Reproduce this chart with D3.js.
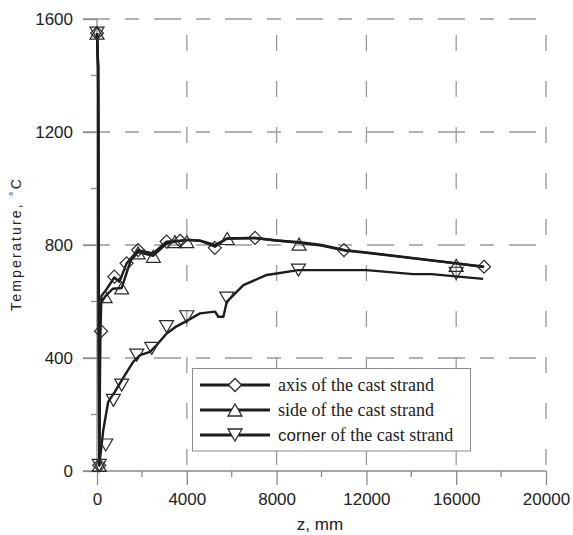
<!DOCTYPE html>
<html><head><meta charset="utf-8">
<script src="https://cdn.jsdelivr.net/npm/d3@7"></script>
<style>body{margin:0;background:#fff}svg{display:block}</style>
</head><body>
<script>
// ---- data ----
const xTicks = [0, 4000, 8000, 12000, 16000, 20000];
const yTicks = [0, 400, 800, 1200, 1600];
const seriesNames = ["axis of the cast strand", "side of the cast strand", "corner of the cast strand"];

const axisLine = [[0,1550],[50,1430],[100,20],[150,495],[200,620],[400,640],[770,685],[1000,670],[1320,735],[1830,782],[2500,770],[3100,812],[3700,815],[4140,818],[4600,815],[5250,794],[5780,823],[7040,825],[8000,816],[9040,810],[10000,800],[11050,782],[12000,774],[17240,723]];
const axisMarks = [[0,1550],[100,20],[180,495],[770,688],[1320,735],[1830,782],[3100,812],[3700,815],[5250,790],[7040,825],[11000,782],[17240,723]];

const sideLine = [[0,1550],[50,1430],[100,20],[140,590],[360,617],[700,645],[1100,648],[1500,745],[1830,775],[2500,762],[3100,805],[3470,812],[4000,818],[4600,815],[5250,800],[5800,823],[7040,825],[8000,816],[9000,808],[10000,798],[11050,780],[12000,772],[16000,735],[17240,722]];
const sideMarks = [[0,1550],[100,20],[360,617],[1100,648],[1830,772],[2510,760],[3470,812],[4000,812],[5800,823],[9000,803],[16000,728]];

const cornerLine = [[0,1550],[50,1430],[100,20],[280,145],[500,245],[800,281],[1250,340],[1620,387],[1920,410],[2360,422],[2660,446],[3100,487],[3500,510],[3920,528],[4590,558],[5260,564],[5400,546],[5630,546],[5780,599],[6520,658],[7560,694],[8970,711],[12000,711],[14080,697],[14900,697],[17200,680]];
const cornerMarks = [[0,1550],[100,20],[390,92],[730,250],[1100,304],[1770,410],[2440,434],[3100,511],[4000,546],[5780,612],[8970,711],[16000,700]];

// ---- layout ----
const W = 573, H = 535;
const svg = d3.select("body").append("svg").attr("width", W).attr("height", H);
const x = d3.scaleLinear().domain([0, 20000]).range([97, 546]);
const y = d3.scaleLinear().domain([0, 1600]).range([471, 19]);
const gridC = "#9a9a9a", axisC = "#8a8a8a", txtC = "#222";

// grid
const g = svg.append("g");
g.selectAll(".hg").data(yTicks.filter(d => d > 0)).join("line")
  .attr("x1", 83).attr("x2", x(20000)).attr("y1", d => y(d)).attr("y2", d => y(d))
  .attr("stroke", gridC).attr("stroke-width", 1.3).attr("stroke-dasharray", "27,15,14,15");
g.selectAll(".vg").data(xTicks.filter(d => d > 0)).join("line")
  .attr("x1", d => x(d)).attr("x2", d => x(d)).attr("y1", y(1600)).attr("y2", 485)
  .attr("stroke", gridC).attr("stroke-width", 1.3).attr("stroke-dasharray", "0,16,16,14");

// axes
const fmt = d3.format("d");
const yAxis = d3.axisLeft(y).tickValues(yTicks).tickFormat(fmt).tickSize(14).tickPadding(10);
const gy = svg.append("g").attr("transform", `translate(${x(0)},0)`).call(yAxis);
const xAxis = d3.axisBottom(x).tickValues(xTicks).tickFormat(fmt).tickSize(14).tickPadding(8);
const gx = svg.append("g").attr("transform", `translate(0,${y(0)})`).call(xAxis);
[gx, gy].forEach(a => {
  a.select(".domain").attr("stroke", axisC).attr("stroke-width", 1.3);
  a.selectAll(".tick line").attr("stroke", axisC).attr("stroke-width", 1.3);
  a.selectAll("text").attr("fill", txtC).style("font-family", "Liberation Sans, Arial, sans-serif").style("font-size", "17px");
});
gx.select(".domain").attr("d", `M83,0H${x(20000)}`);
gy.select(".domain").attr("d", `M0,${y(1600)}V${y(0)}`);
// minor ticks
const xMinor = d3.range(2000, 20000, 4000);
svg.append("g").selectAll("line").data(xMinor).join("line")
  .attr("x1", d => x(d)).attr("x2", d => x(d)).attr("y1", y(0)).attr("y2", y(0) + 6)
  .attr("stroke", axisC).attr("stroke-width", 1.3);
const yMinor = d3.range(200, 1600, 400);
svg.append("g").selectAll("line").data(yMinor).join("line")
  .attr("x1", x(0) - 6).attr("x2", x(0)).attr("y1", d => y(d)).attr("y2", d => y(d))
  .attr("stroke", axisC).attr("stroke-width", 1.3);

// axis titles
svg.append("text").attr("x", 320).attr("y", 530).attr("text-anchor", "middle")
  .attr("fill", txtC).style("font-family", "Liberation Sans, Arial, sans-serif").style("font-size", "17px").text("z, mm");
const yt = svg.append("text").attr("transform", "translate(21,244) rotate(-90)").attr("text-anchor", "middle")
  .attr("fill", txtC).style("font-family", "Liberation Sans, Arial, sans-serif").style("font-size", "14px").style("letter-spacing", "2.2px");
yt.append("tspan").text("Temperature, ");
yt.append("tspan").attr("dy", -4).style("font-size", "11px").text("°");
yt.append("tspan").attr("dy", 4).text("C");

// markers
const diamond = (s) => `M0,${-s}L${s},0L0,${s}L${-s},0Z`;
const triUp = (w, h) => `M0,${-h/2 - 1}L${w},${h/2 + 1}L${-w},${h/2 + 1}Z`;
const triDown = (w, h) => `M0,${h/2 + 1}L${w},${-h/2 - 1}L${-w},${-h/2 - 1}Z`;
const shapes = [diamond(6.5), triUp(7, 10), triDown(7, 10)];

const line = d3.line().x(d => x(d[0])).y(d => y(d[1]));
const lines = [axisLine, sideLine, cornerLine];
const marks = [axisMarks, sideMarks, cornerMarks];
const pg = svg.append("g");
lines.forEach(L => {
  pg.append("path").datum(L).attr("d", line).attr("fill", "none")
    .attr("stroke", "#1c1c1c").attr("stroke-width", 2.4).attr("stroke-linejoin", "round");
});
marks.forEach((M, i) => {
  pg.append("g").selectAll("path").data(M).join("path")
    .attr("transform", d => `translate(${x(d[0])},${y(d[1])})`)
    .attr("d", shapes[i]).attr("fill", "none").attr("stroke", "#2a2a2a").attr("stroke-width", 1.2);
});

// legend
const lg = svg.append("g");
lg.append("rect").attr("x", 192.5).attr("y", 368.5).attr("width", 278).attr("height", 82.5)
  .attr("fill", "#fff").attr("stroke", axisC).attr("stroke-width", 1);
seriesNames.forEach((name, i) => {
  const cy = 385 + i * 25;
  lg.append("line").attr("x1", 200).attr("x2", 270).attr("y1", cy).attr("y2", cy)
    .attr("stroke", "#1c1c1c").attr("stroke-width", 2.8);
  lg.append("path").attr("transform", `translate(235,${cy})`).attr("d", shapes[i])
    .attr("fill", "#fff").attr("stroke", "#2a2a2a").attr("stroke-width", 1.3);
  const t = lg.append("text").attr("x", 278).attr("y", cy + 6).attr("fill", txtC)
    .style("font-family", "Liberation Serif, Times New Roman, serif").style("font-size", "18px");
  const parts = name.split(" ");
  if (parts[0] === "corner") {
    t.append("tspan").style("font-family", "Liberation Sans, Arial, sans-serif").style("font-size", "17px").text("corner");
    t.append("tspan").text(" " + parts.slice(1).join(" "));
  } else {
    t.text(name);
  }
});
</script>
</body></html>
